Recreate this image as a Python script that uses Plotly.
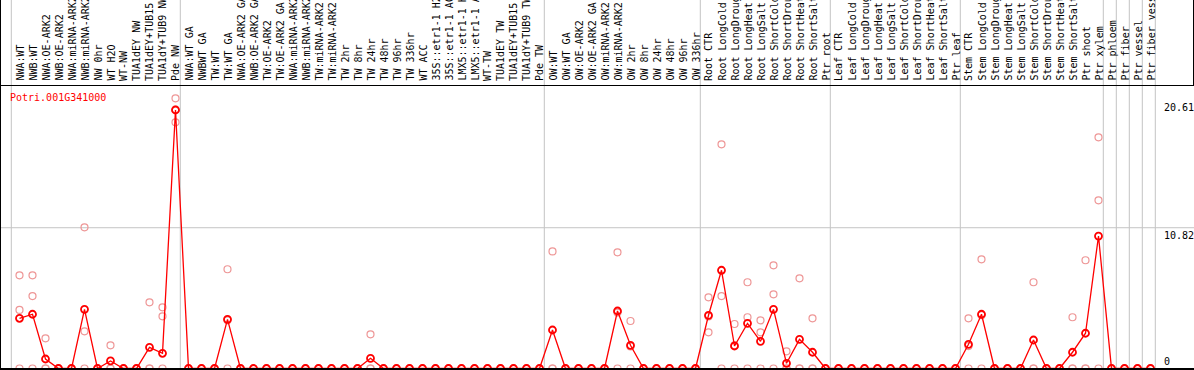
import plotly.graph_objects as go

categories = [
    "NWA:WT", "NWB:WT", "NWA:OE-ARK2", "NWB:OE-ARK2", "NWA:miRNA-ARK2", "NWB:miRNA-ARK2",
    "NW 0hr", "WT H2O", "WT-NW", "TUA1dEY NW", "TUA1dEY+TUB15 NW", "TUA1dY+TUB9 NW", "Pde NW",
    "NWA:WT GA", "NWBWT GA", "TW:WT", "TW:WT GA", "NWA:OE-ARK2 GA", "NWB:OE-ARK2 GA",
    "TW:OE-ARK2", "TW:OE-ARK2 GA", "NWA:miRNA-ARK2", "NWB:miRNA-ARK2", "TW:miRNA-ARK2",
    "TW:miRNA-ARK2", "TW 2hr", "TW 8hr", "TW 24hr", "TW 48hr", "TW 96hr", "TW 336hr", "WT ACC",
    "35S::etr1-1 H2O", "35S::etr1-1 ACC", "LMX5::etr1-1 H2O", "LMX5::etr1-1 ACC", "WT-TW",
    "TUA1dEY TW", "TUA1dEY+TUB15 TW", "TUA1dY+TUB9 TW", "Pde TW",
    "OW:WT", "OW:WT GA", "OW:OE-ARK2", "OW:OE-ARK2 GA", "OW:miRNA-ARK2", "OW:miRNA-ARK2",
    "OW 2hr", "OW 8hr", "OW 24hr", "OW 48hr", "OW 96hr", "OW 336hr",
    "Root CTR", "Root LongCold", "Root LongDrought", "Root LongHeat", "Root LongSalt",
    "Root ShortCold", "Root ShortDrought", "Root ShortHeat", "Root ShortSalt", "Ptr root",
    "Leaf CTR", "Leaf LongCold", "Leaf LongDrought", "Leaf LongHeat", "Leaf LongSalt",
    "Leaf ShortCold", "Leaf ShortDrought", "Leaf ShortHeat", "Leaf ShortSalt", "Ptr leaf",
    "Stem CTR", "Stem LongCold", "Stem LongDrought", "Stem LongHeat", "Stem LongSalt",
    "Stem ShortCold", "Stem ShortDrought", "Stem ShortHeat", "Stem ShortSalt", "Ptr shoot",
    "Ptr xylem", "Ptr phloem", "Ptr fiber", "Ptr vessel", "Ptr fiber vessel",
]

mean_values = [
    3.86, 4.17, 0.73, 0, 0, 4.55, 0, 0.58, 0, 0, 1.63,
    1.17, 19.87, 0, 0, 0, 3.78, 0, 0, 0, 0, 0,
    0, 0, 0, 0, 0, 0.78, 0, 0, 0, 0, 0,
    0, 0, 0, 0, 0, 0, 0, 0, 2.96, 0, 0,
    0, 0, 4.42, 1.78, 0, 0, 0, 0, 0, 4.09, 7.55,
    1.73, 3.47, 2.09, 4.55, 0.40, 2.24, 1.25, 0, 0, 0, 0,
    0, 0, 0, 0, 0, 0, 0, 1.86, 4.17, 0, 0,
    0, 2.19, 0, 0, 1.25, 2.71, 10.18, 0, 0, 0, 0,
]

rep1 = [
    7.16, 7.16, 2.32, 0, 0, 10.85, 0, 1.78, 0, 0, 5.09,
    4.70, 20.77, 0, 0, 0, 7.63, 0, 0, 0, 0, 0,
    0, 0, 0, 0, 0, 2.63, 0, 0, 0, 0, 0,
    0, 0, 0, 0, 0, 0, 0, 0, 9.00, 0, 0,
    0, 0, 8.93, 3.65, 0, 0, 0, 0, 0, 5.47, 17.23,
    3.42, 6.63, 3.70, 7.93, 1.32, 6.93, 3.86, 0, 0, 0, 0,
    0, 0, 0, 0, 0, 0, 0, 3.86, 8.39, 0, 0,
    0, 6.63, 0, 0, 3.94, 8.32, 17.77, 0, 0, 0, 0,
]

rep2 = [
    4.50, 5.57, 0, 0, 0, 2.86, 0, 0, 0, 0, 0,
    4.01, 19.90, 0, 0, 0, 3.70, 0, 0, 0, 0, 0,
    0, 0, 0, 0, 0, 0, 0, 0, 0, 0, 0,
    0, 0, 0, 0, 0, 0, 0, 0, 0, 0, 0,
    0, 0, 4.30, 1.70, 0, 0, 0, 0, 0, 4.00, 5.57,
    1.77, 3.94, 2.78, 5.70, 0, 0, 0, 0, 0, 0, 0,
    0, 0, 0, 0, 0, 0, 0, 1.72, 4.10, 0, 0,
    0, 0, 0, 0, 0, 0, 12.93, 0, 0, 0, 0,
]

rep3 = [
    0, 0, 0, 0, 0, 0, 0, 0, 0, 0, 0,
    0, 18.92, 0, 0, 0, 0, 0, 0, 0, 0, 0,
    0, 0, 0, 0, 0, 0, 0, 0, 0, 0, 0,
    0, 0, 0, 0, 0, 0, 0, 0, 0, 0, 0,
    0, 0, 0, 0, 0, 0, 0, 0, 0, 2.78, 0,
    0, 0, 0, 0, 0, 0, 0, 0, 0, 0, 0,
    0, 0, 0, 0, 0, 0, 0, 0, 0, 0, 0,
    0, 0, 0, 0, 0, 0, 0, 0, 0, 0, 0,
]

# last category index of each group (group separators)
group_ends = [-1, 12, 40, 52, 62, 72, 83, 84, 85, 86, 87]
tick_values = [20.61, 10.82, 0]
tick_labels = ["20.61", "10.82", "0"]
gene_name = "Potri.001G341000"

W, H = 1194, 370
PX_X = 13.0
PX_Y = 13.01
xmin = -19.5 / PX_X
xmax = xmin + W / PX_X
ymin = -1.5 / PX_Y
ymax = ymin + H / PX_Y

xs = list(range(len(categories)))
FONT = "DejaVu Sans Mono"

fig = go.Figure()
rep_x, rep_y = [], []
for reps in (rep1, rep2, rep3):
    rep_x += xs
    rep_y += reps
fig.add_trace(go.Scatter(
    x=rep_x, y=rep_y, mode="markers",
    marker=dict(symbol="circle-open", size=7, color="rgb(238,150,150)", line=dict(width=1.2)),
    hoverinfo="skip", showlegend=False, cliponaxis=False,
))
fig.add_trace(go.Scatter(
    x=xs, y=mean_values, mode="lines+markers",
    line=dict(color="red", width=1.3),
    marker=dict(symbol="circle-open", size=7, color="red", line=dict(width=1.8)),
    showlegend=False, cliponaxis=False,
))

shapes = []
for g in group_ends:
    gx = g + 0.37
    shapes.append(dict(type="line", xref="x", yref="paper", x0=gx, x1=gx, y0=0, y1=1,
                       line=dict(color="#c4c4c4", width=1), layer="below"))
shapes.append(dict(type="line", xref="paper", yref="y", x0=0, x1=1, y0=tick_values[1], y1=tick_values[1],
                   line=dict(color="#c4c4c4", width=1), layer="below"))
top_y = (H - 85.5) / H
bot_y = (H - 369) / H
shapes += [
    dict(type="line", xref="paper", yref="paper", x0=0, x1=1, y0=top_y, y1=top_y, line=dict(color="black", width=1)),
    dict(type="line", xref="paper", yref="paper", x0=0, x1=1, y0=bot_y, y1=bot_y, line=dict(color="black", width=2)),
    dict(type="line", xref="paper", yref="paper", x0=0.5 / W, x1=0.5 / W, y0=0, y1=1, line=dict(color="black", width=1)),
    dict(type="line", xref="paper", yref="paper", x0=1 - 0.5 / W, x1=1 - 0.5 / W, y0=top_y, y1=1, line=dict(color="black", width=1)),
]

annotations = []
for i, c in enumerate(categories):
    annotations.append(dict(x=i, xref="x", y=(H - 83) / H, yref="paper", text=c, textangle=-90,
                            xanchor="center", yanchor="bottom", showarrow=False,
                            font=dict(family=FONT, size=10, color="black")))
anchors = ["top", "top", "bottom"]
for v, t, a in zip(tick_values, tick_labels, anchors):
    annotations.append(dict(x=1162 / W, xref="paper", y=v, yref="y", text=t, xanchor="left", yanchor=a,
                            showarrow=False, font=dict(family=FONT, size=10, color="black")))
annotations.append(dict(x=8 / W, xref="paper", y=(H - 97) / H, yref="paper", text=gene_name,
                        xanchor="left", yanchor="middle", showarrow=False,
                        font=dict(family=FONT, size=10, color="red")))

fig.update_layout(
    width=W, height=H, margin=dict(l=0, r=0, t=0, b=0, pad=0),
    paper_bgcolor="white", plot_bgcolor="white",
    xaxis=dict(range=[xmin, xmax], visible=False, fixedrange=True),
    yaxis=dict(range=[ymin, ymax], visible=False, fixedrange=True),
    shapes=shapes, annotations=annotations, showlegend=False,
)
fig.write_html(
    "out.html",
    config={"displayModeBar": False},
    post_script="document.body.style.margin='0';document.body.style.overflow='hidden';",
)
